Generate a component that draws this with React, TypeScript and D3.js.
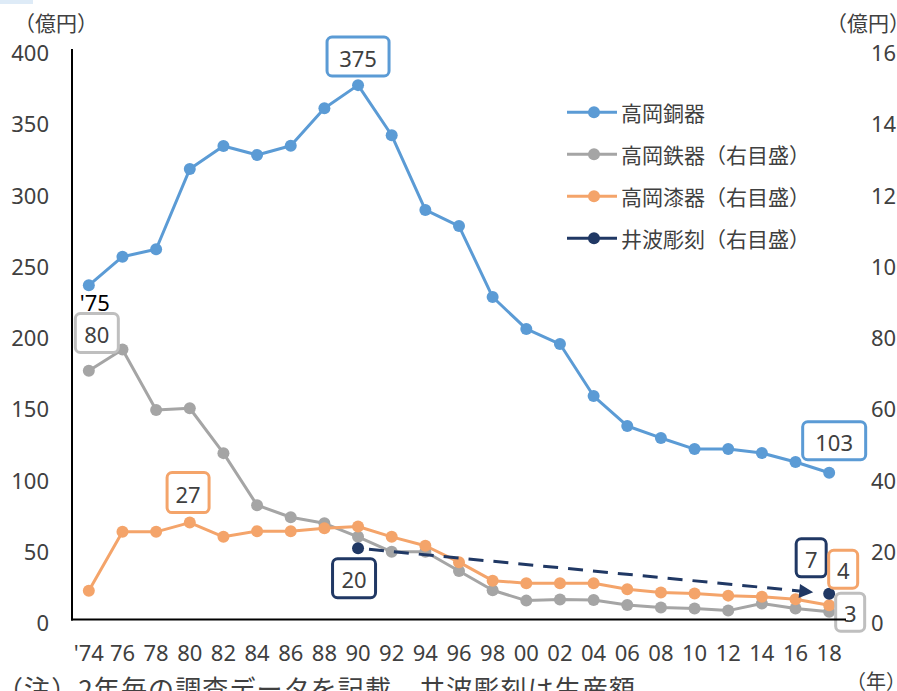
import React from "react";
import * as d3 from "d3";

const years = [1974, 1976, 1978, 1980, 1982, 1984, 1986, 1988, 1990, 1992, 1994, 1996, 1998, 2000, 2002, 2004, 2006, 2008, 2010, 2012, 2014, 2016, 2018];
const yearLabels = ["'74", "76", "78", "80", "82", "84", "86", "88", "90", "92", "94", "96", "98", "00", "02", "04", "06", "08", "10", "12", "14", "16", "18"];

// 高岡銅器 (left axis, 億円)
const copper = [234.5, 254.6, 259.8, 316.1, 332.3, 326, 332.5, 358.7, 375, 339.8, 287.4, 276.1, 226.3, 203.9, 193.3, 156.8, 135.8, 127.4, 119.6, 119.6, 116.8, 110.5, 103];
// 高岡鉄器 (right axis)
const iron = [69.8, 75.8, 58.8, 59.3, 46.7, 32.1, 28.7, 27, 23.2, 19, 19, 13.6, 8.2, 5.3, 5.6, 5.5, 4.1, 3.4, 3.1, 2.5, 4.5, 3.1, 2.2];
// 高岡漆器 (right axis)
const lacquer = [8.1, 24.6, 24.6, 27.2, 23.2, 24.8, 24.8, 25.6, 26.1, 23.2, 20.7, 16.1, 10.9, 10.2, 10.2, 10.2, 8.5, 7.6, 7.3, 6.7, 6.4, 5.7, 4.0];
// 井波彫刻 (right axis)
const carvingYears = [1990, 2018];
const carving = [20, 7.2];

const leftTicks = [0, 50, 100, 150, 200, 250, 300, 350, 400];
const rightTicks = [0, 20, 40, 60, 80, 100, 120, 140, 160];

const legendItems = [
  { label: "高岡銅器", color: "#5b9bd5" },
  { label: "高岡鉄器（右目盛）", color: "#a5a5a5" },
  { label: "高岡漆器（右目盛）", color: "#f4a46a" },
  { label: "井波彫刻（右目盛）", color: "#203864" },
];

const COL = { copper: "#5b9bd5", iron: "#a5a5a5", lacquer: "#f4a46a", carving: "#203864", ironBox: "#bfbfbf" };
const TEXT = "#404040";
const NUMFONT = "'Noto Sans', 'Noto Sans CJK JP', sans-serif";
const JPFONT = "'Noto Sans CJK JP', 'Noto Sans', sans-serif";

export default function App() {
  const W = 897, H = 691;
  const x = d3.scaleBand<number>().domain(years).range([72, 846]);
  const cx = (yr: number) => (x(yr) as number) + x.bandwidth() / 2;
  const yL = d3.scaleLinear().domain([0, 400]).range([619.5, 49.5]);
  const yR = d3.scaleLinear().domain([0, 160]).range([619.5, 49.5]);

  const lineL = d3.line<number>().x((_, i) => cx(years[i])).y((d) => yL(d));
  const lineR = d3.line<number>().x((_, i) => cx(years[i])).y((d) => yR(d));

  const series = [
    { vals: copper, color: COL.copper, path: lineL(copper), sy: yL },
    { vals: iron, color: COL.iron, path: lineR(iron), sy: yR },
    { vals: lacquer, color: COL.lacquer, path: lineR(lacquer), sy: yR },
  ];

  // dashed arrow for 井波彫刻
  const ax = cx(carvingYears[0]), ay = yR(carving[0]);
  const bx = cx(carvingYears[1]), by = yR(carving[1]);
  const len = Math.hypot(bx - ax, by - ay);
  const ux = (bx - ax) / len, uy = (by - ay) / len;
  const sx = ax + ux * 11, sy = ay + uy * 11;
  const tipx = bx - ux * 16, tipy = by - uy * 16;
  const headLen = 14, headW = 7;
  const basex = tipx - ux * headLen, basey = tipy - uy * headLen;
  const head = `${tipx},${tipy} ${basex - uy * headW},${basey + ux * headW} ${basex + uy * headW},${basey - ux * headW}`;

  const i18 = years.length - 1;
  const boxes = [
    { t: "375", cx: cx(1990), cy: yL(copper[8]) - 28.6, w: 62, h: 39, c: COL.copper },
    { t: "80", cx: cx(1974) + 8, cy: yR(80) - 1.5, w: 43, h: 39, c: COL.ironBox },
    { t: "27", cx: cx(1980) - 1.7, cy: yR(lacquer[3]) - 30, w: 42, h: 40, c: COL.lacquer },
    { t: "20", cx: cx(1990) - 4, cy: yR(carving[0]) + 30, w: 43, h: 39, c: COL.carving },
    { t: "7", cx: cx(2018) - 18, cy: yR(carving[1]) - 36, w: 30, h: 38, c: COL.carving },
    { t: "4", cx: cx(2018) + 14, cy: yR(lacquer[i18]) - 36, w: 29, h: 38, c: COL.lacquer },
    { t: "3", cx: cx(2018) + 21, cy: yR(iron[i18]) + 0.5, w: 29, h: 38, c: COL.ironBox },
    { t: "103", cx: cx(2018) + 5, cy: yL(copper[i18]) - 32, w: 63, h: 38, c: COL.copper },
  ];

  return (
    <div style={{ position: "absolute", left: 0, top: 0 }}>
      <svg width={W} height={H} viewBox={`0 0 ${W} ${H}`} style={{ display: "block", background: "#fff" }}>
        <rect x={0} y={0} width={33} height={4} fill="#deebf7" />
        {/* unit labels */}
        <text x={14} y={22} fontFamily={JPFONT} fontSize={21} fill={TEXT} dominantBaseline="central">（億円）</text>
        <text x={826} y={22} fontFamily={JPFONT} fontSize={21} fill={TEXT} dominantBaseline="central">（億円）</text>
        <text x={846} y={680} fontFamily={JPFONT} fontSize={20} fill={TEXT} dominantBaseline="central">（年）</text>

        {/* left ticks */}
        {leftTicks.map((v) => (
          <text key={"l" + v} x={49} y={yL(v) + 2.5} textAnchor="end" dominantBaseline="central" fontFamily={NUMFONT} fontSize={22} fill={TEXT}>{v}</text>
        ))}
        {/* right ticks */}
        {rightTicks.map((v) => (
          <text key={"r" + v} x={871} y={yR(v) + 2.5} textAnchor="start" dominantBaseline="central" fontFamily={NUMFONT} fontSize={22} fill={TEXT}>{v}</text>
        ))}
        {/* x labels */}
        {years.map((yr, i) => (
          <text key={"x" + yr} x={cx(yr)} y={652} textAnchor="middle" dominantBaseline="central" fontFamily={NUMFONT} fontSize={22} fill={TEXT}>{yearLabels[i]}</text>
        ))}

        {/* left axis line */}
        <line x1={72} y1={49} x2={72} y2={620.5} stroke="#000" strokeWidth={2} />

        {/* series */}
        {series.map((s, k) => (
          <g key={"s" + k}>
            <path d={s.path as string} fill="none" stroke={s.color} strokeWidth={3} strokeLinejoin="round" />
            {s.vals.map((v, i) => (
              <circle key={i} cx={cx(years[i])} cy={s.sy(v)} r={6} fill={s.color} />
            ))}
          </g>
        ))}

        {/* 井波彫刻 */}
        <line x1={sx} y1={sy} x2={basex + ux * 2} y2={basey + uy * 2} stroke={COL.carving} strokeWidth={3} strokeDasharray="15 10" />
        <polygon points={head} fill={COL.carving} />
        {carving.map((v, i) => (
          <circle key={"c" + i} cx={cx(carvingYears[i])} cy={yR(v)} r={6} fill={COL.carving} />
        ))}

        {/* annotation boxes */}
        {boxes.map((b, i) => (
          <g key={"b" + i}>
            <rect x={b.cx - b.w / 2} y={b.cy - b.h / 2} width={b.w} height={b.h} rx={5} ry={5} fill="#fff" stroke={b.c} strokeWidth={3} />
            <text x={b.cx} y={b.cy + 1} textAnchor="middle" dominantBaseline="central" fontFamily={NUMFONT} fontSize={22} fill={TEXT}>{b.t}</text>
          </g>
        ))}
        <text x={cx(1974) + 6} y={yL(copper[0]) + 17} textAnchor="middle" dominantBaseline="central" fontFamily={NUMFONT} fontSize={22} fill="#000">'75</text>

        {/* bottom axis line */}
        <line x1={71} y1={619.5} x2={846} y2={619.5} stroke="#000" strokeWidth={2} />

        {/* legend */}
        {legendItems.map((it, i) => {
          const ly = 112.3 + i * 42;
          return (
            <g key={"lg" + i}>
              <line x1={567} y1={ly} x2={617} y2={ly} stroke={it.color} strokeWidth={3} />
              <circle cx={594} cy={ly} r={6} fill={it.color} />
              <text x={621} y={ly} dominantBaseline="central" fontFamily={JPFONT} fontSize={21} fill={TEXT}>{it.label}</text>
            </g>
          );
        })}

        {/* footnote */}
        <text x={-3} y={699} fontFamily={JPFONT} fontSize={26} fill={TEXT} textLength={638} lengthAdjust="spacing">（注）2年毎の調査データを記載、井波彫刻は生産額</text>
      </svg>
    </div>
  );
}
